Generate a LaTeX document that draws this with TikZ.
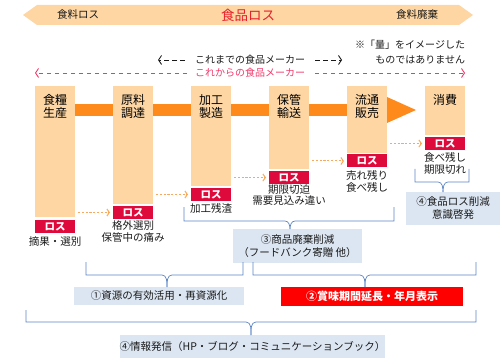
\documentclass[tikz,border=0pt]{standalone}
\usepackage{fontspec}
\setmainfont{Noto Sans CJK JP}
\usetikzlibrary{arrows.meta}
\definecolor{peach}{HTML}{FDD6A4}
\definecolor{orng}{HTML}{FF8A1C}
\definecolor{dotorng}{HTML}{F9A95C}
\definecolor{lossred}{HTML}{DF0A3C}
\definecolor{dashred}{HTML}{F0386A}
\definecolor{titlered}{HTML}{E8202A}
\definecolor{bracecol}{HTML}{5B84C4}
\definecolor{boxblue}{HTML}{DCE6F2}
\definecolor{txt}{HTML}{1A1A1A}
\begin{document}
\begin{tikzpicture}[x=1pt,y=-1pt,
  every node/.style={inner sep=0pt, outer sep=0pt, text=txt},
  colbox/.style={fill=peach, minimum width=40pt, anchor=north},
  lossbox/.style={fill=lossred, minimum width=40pt, minimum height=13pt, text=white, font=\fontsize{10.5}{11}\selectfont\bfseries},
  collab/.style={font=\fontsize{12}{13}\selectfont, align=center, text=black},
  losstxt/.style={font=\fontsize{10.5}{11.5}\selectfont, align=center},
  dotarr/.style={draw=dotorng, dash pattern=on 2.2pt off 1.6pt, line width=1pt, -{Straight Barb[length=2.5pt,width=7pt]}, shorten <=3pt, shorten >=3pt},
  brace/.style={draw=bracecol, line width=0.7pt},
  infobox/.style={fill=boxblue, align=center, font=\fontsize{10.5}{13}\selectfont},
  toptxt/.style={font=\fontsize{10}{12}\selectfont},
  chev/.style={-{Straight Barb[length=3pt,width=9pt]}, line width=0.9pt}
]
\useasboundingbox (0,0) rectangle (500,358);
% top band
\fill[peach] (23,15) -- (37,5) -- (459,5) -- (473,15) -- (459,25) -- (37,25) -- cycle;
\node[font=\fontsize{10.5}{10}\selectfont, anchor=west] (tl) at (57,15) {食料ロス};
\node[font=\fontsize{13.5}{14}\selectfont, text=titlered] (tc) at (248,15) {食品ロス};
\node[font=\fontsize{10.5}{10}\selectfont, anchor=west] (tr) at (396,15) {食料廃棄};
% note
\node[toptxt, align=right, anchor=east, font=\fontsize{10}{14.5}\selectfont] (note) at (465,52) {※「量」をイメージした\\ものではありません};
% makers
\node[toptxt] (old) at (250,60) {これまでの食品メーカー};
\node[toptxt, text=dashred] (new) at (250,73) {これからの食品メーカー};
\coordinate (oldL) at (158,60);
\coordinate (oldR) at (342,60);
\coordinate (newL) at (35,73);
\coordinate (newR) at (465,73);
\draw[chev, draw=txt, dash pattern=on 5pt off 3pt] ([xshift=-10pt]old.west) -- (oldL);
\draw[chev, draw=txt, dash pattern=on 5pt off 3pt] ([xshift=10pt]old.east) -- (oldR);
\draw[chev, draw=dashred, dash pattern=on 4pt off 4pt] ([xshift=-8pt]new.west) -- (newL);
\draw[chev, draw=dashred, dash pattern=on 4pt off 4pt] ([xshift=10pt]new.east) -- (newR);
% main orange arrow
\fill[orng] (75,104) rectangle (388,116);
\fill[orng] (387,97) -- (416,110) -- (387,123) -- cycle;
% columns
\node[colbox, minimum height=131pt] (c1) at (55,86) {};
\node[colbox, minimum height=118pt] (c2) at (133,86) {};
\node[colbox, minimum height=100pt] (c3) at (211,86) {};
\node[colbox, minimum height=83pt] (c4) at (289,86) {};
\node[colbox, minimum height=67pt] (c5) at (367,86) {};
\node[colbox, minimum height=49pt] (c6) at (445,86) {};
\node[collab] (l1) at (55,106.5) {食糧\\生産};
\node[collab] (l2) at (133,106.5) {原料\\調達};
\node[collab] (l3) at (211,106.5) {加工\\製造};
\node[collab] (l4) at (289,106.5) {保管\\輸送};
\node[collab] (l5) at (367,106.5) {流通\\販売};
\node[collab] (l6) at (445,100) {消費};
% loss boxes
\node[lossbox] (r1) at (55,226.5) {ロス};
\node[lossbox] (r2) at (133,212.5) {ロス};
\node[lossbox] (r3) at (211,194.5) {ロス};
\node[lossbox] (r4) at (289,177.5) {ロス};
\node[lossbox] (r5) at (367,161) {ロス};
\node[lossbox] (r6) at (445,143.5) {ロス};
\node[losstxt] (x1) at (55,241.5) {摘果・選別};
\node[losstxt] (x2) at (133,231.5) {格外選別\\保管中の痛み};
\node[losstxt] (x3) at (211,208.5) {加工残渣};
\node[losstxt] (x4) at (289,195) {期限切迫\\需要見込み違い};
\node[losstxt] (x5) at (367,181.5) {売れ残り\\食べ残し};
\node[losstxt] (x6) at (445,163.5) {食べ残し\\期限切れ};
% dotted arrows
\draw[dotarr] (c1.east |- r2.west) -- (r2.west);
\draw[dotarr] (c2.east |- r3.west) -- (r3.west);
\draw[dotarr] (c3.east |- r4.west) -- (r4.west);
\draw[dotarr] (c4.east |- r5.west) -- (r5.west);
\draw[dotarr] (c5.east |- r6.west) -- (r6.west);
% info boxes
\node[infobox, minimum width=170pt, minimum height=18pt] (b1) at (159,296) {①資源の有効活用・再資源化};
\node[infobox, fill=red, text=white, minimum width=182pt, minimum height=19pt, font=\fontsize{11}{13}\selectfont\bfseries] (b2) at (372,296.5) {②賞味期間延長・年月表示};
\node[infobox, minimum width=129pt, minimum height=34pt] (b3) at (297.5,246) {③商品廃棄削減\\（フードバンク寄贈\ 他）};
\node[infobox, minimum width=241pt, minimum height=23pt] (b4) at (252.5,346.5) {④情報発信（HP・ブログ・コミュニケーションブック）};
\node[infobox, minimum width=94pt, minimum height=33pt] (b5) at (453,208.5) {④食品ロス削減\\意識啓発};
% brace tip columns
\coordinate (k1) at (167,0);
\coordinate (k2) at (365,0);
\coordinate (k3) at (290,0);
\coordinate (k4) at (251,0);
\coordinate (k5) at (443,0);
% braces
\draw[brace] (86,262) |- (162,275) to[out=0,in=90] (k1 |- b1.north);
\draw[brace] (243,262) |- (172,275) to[out=180,in=90] (k1 |- b1.north);
\draw[brace] (253,262) |- (360,275) to[out=0,in=90] (k2 |- b2.north);
\draw[brace] (476,262) |- (370,275) to[out=180,in=90] (k2 |- b2.north);
\draw[brace] (184,207) |- (285,221) to[out=0,in=90] (k3 |- b3.north);
\draw[brace] (394,207) |- (295,221) to[out=180,in=90] (k3 |- b3.north);
\draw[brace] (26,310) |- (246,322) to[out=0,in=90] (k4 |- b4.north);
\draw[brace] (476,310) |- (256,322) to[out=180,in=90] (k4 |- b4.north);
\draw[brace] (415,169) |- (438,182) to[out=0,in=90] (k5 |- b5.north);
\draw[brace] (469,169) |- (448,182) to[out=180,in=90] (k5 |- b5.north);
\end{tikzpicture}
\end{document}
